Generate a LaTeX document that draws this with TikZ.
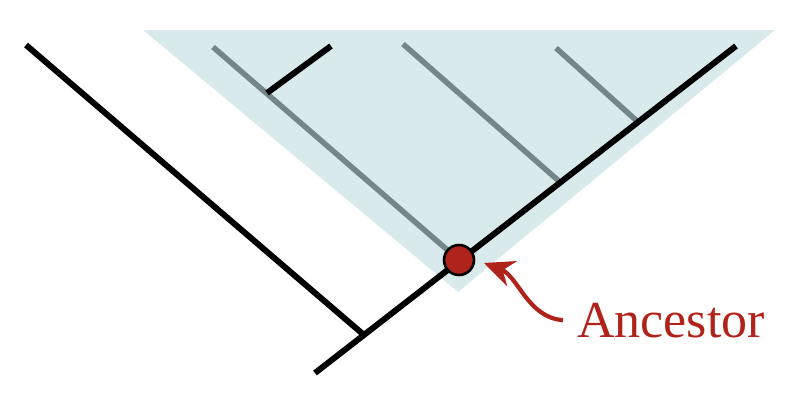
\documentclass[tikz,border=0pt]{standalone}
\usepackage{fontspec}
\setmainfont{Liberation Serif}
\usetikzlibrary{arrows.meta,calc}
\definecolor{clade}{HTML}{D9EAEC}
\definecolor{greyline}{HTML}{73878B}
\definecolor{ancred}{HTML}{B0231A}
\begin{document}
\begin{tikzpicture}[x=1pt,y=-1pt,
  branch/.style={line width=6pt,black},
  greybranch/.style={line width=5.5pt,greyline},
  dotstyle/.style={circle,fill=ancred,draw=black,line width=2.6pt,minimum size=30pt,inner sep=0pt},
  labelstyle/.style={anchor=base west,text=ancred,inner sep=0pt,font=\fontsize{52}{52}\selectfont},
  pointer/.style={ancred,line width=4.2pt,-{Stealth[length=30pt,width=27pt,inset=10pt]}}]
\useasboundingbox (0,0) rectangle (786,408);
% clade shading
\fill[clade] (143,30) -- (775,30) -- (458,292) -- cycle;
% coordinates
\coordinate (root) at (315,373);
\coordinate (n1) at (364,335);
\coordinate (anc) at (459,260);
\coordinate (n2) at (560,182);
\coordinate (n3) at (638,122);
\coordinate (tipR) at (736,46);
\coordinate (tipL) at (26,45);
\coordinate (gA) at (213,47);
\coordinate (gB) at (403,44);
\coordinate (gC) at (556,48);
\coordinate (n4) at (267,93);
\coordinate (tipB) at (331,46);
% grey branches
\draw[greybranch] (gA) -- (anc);
\draw[greybranch] (gB) -- (n2);
\draw[greybranch] (gC) -- (n3);
% black branches
\draw[branch] (tipL) -- (n1);
\draw[branch] (root) -- (tipR);
\draw[branch] (n4) -- (tipB);
% ancestor
\node[dotstyle] (ancdot) at (anc) {};
\node[labelstyle] (lbl) at (577,337) {Ancestor};
\coordinate (ptrend) at ($(ancdot.center)+(25,3)$);
\draw[pointer] ([xshift=-14pt]lbl.west) .. controls (528,318) and (518,276) .. (ptrend);
\end{tikzpicture}
\end{document}
